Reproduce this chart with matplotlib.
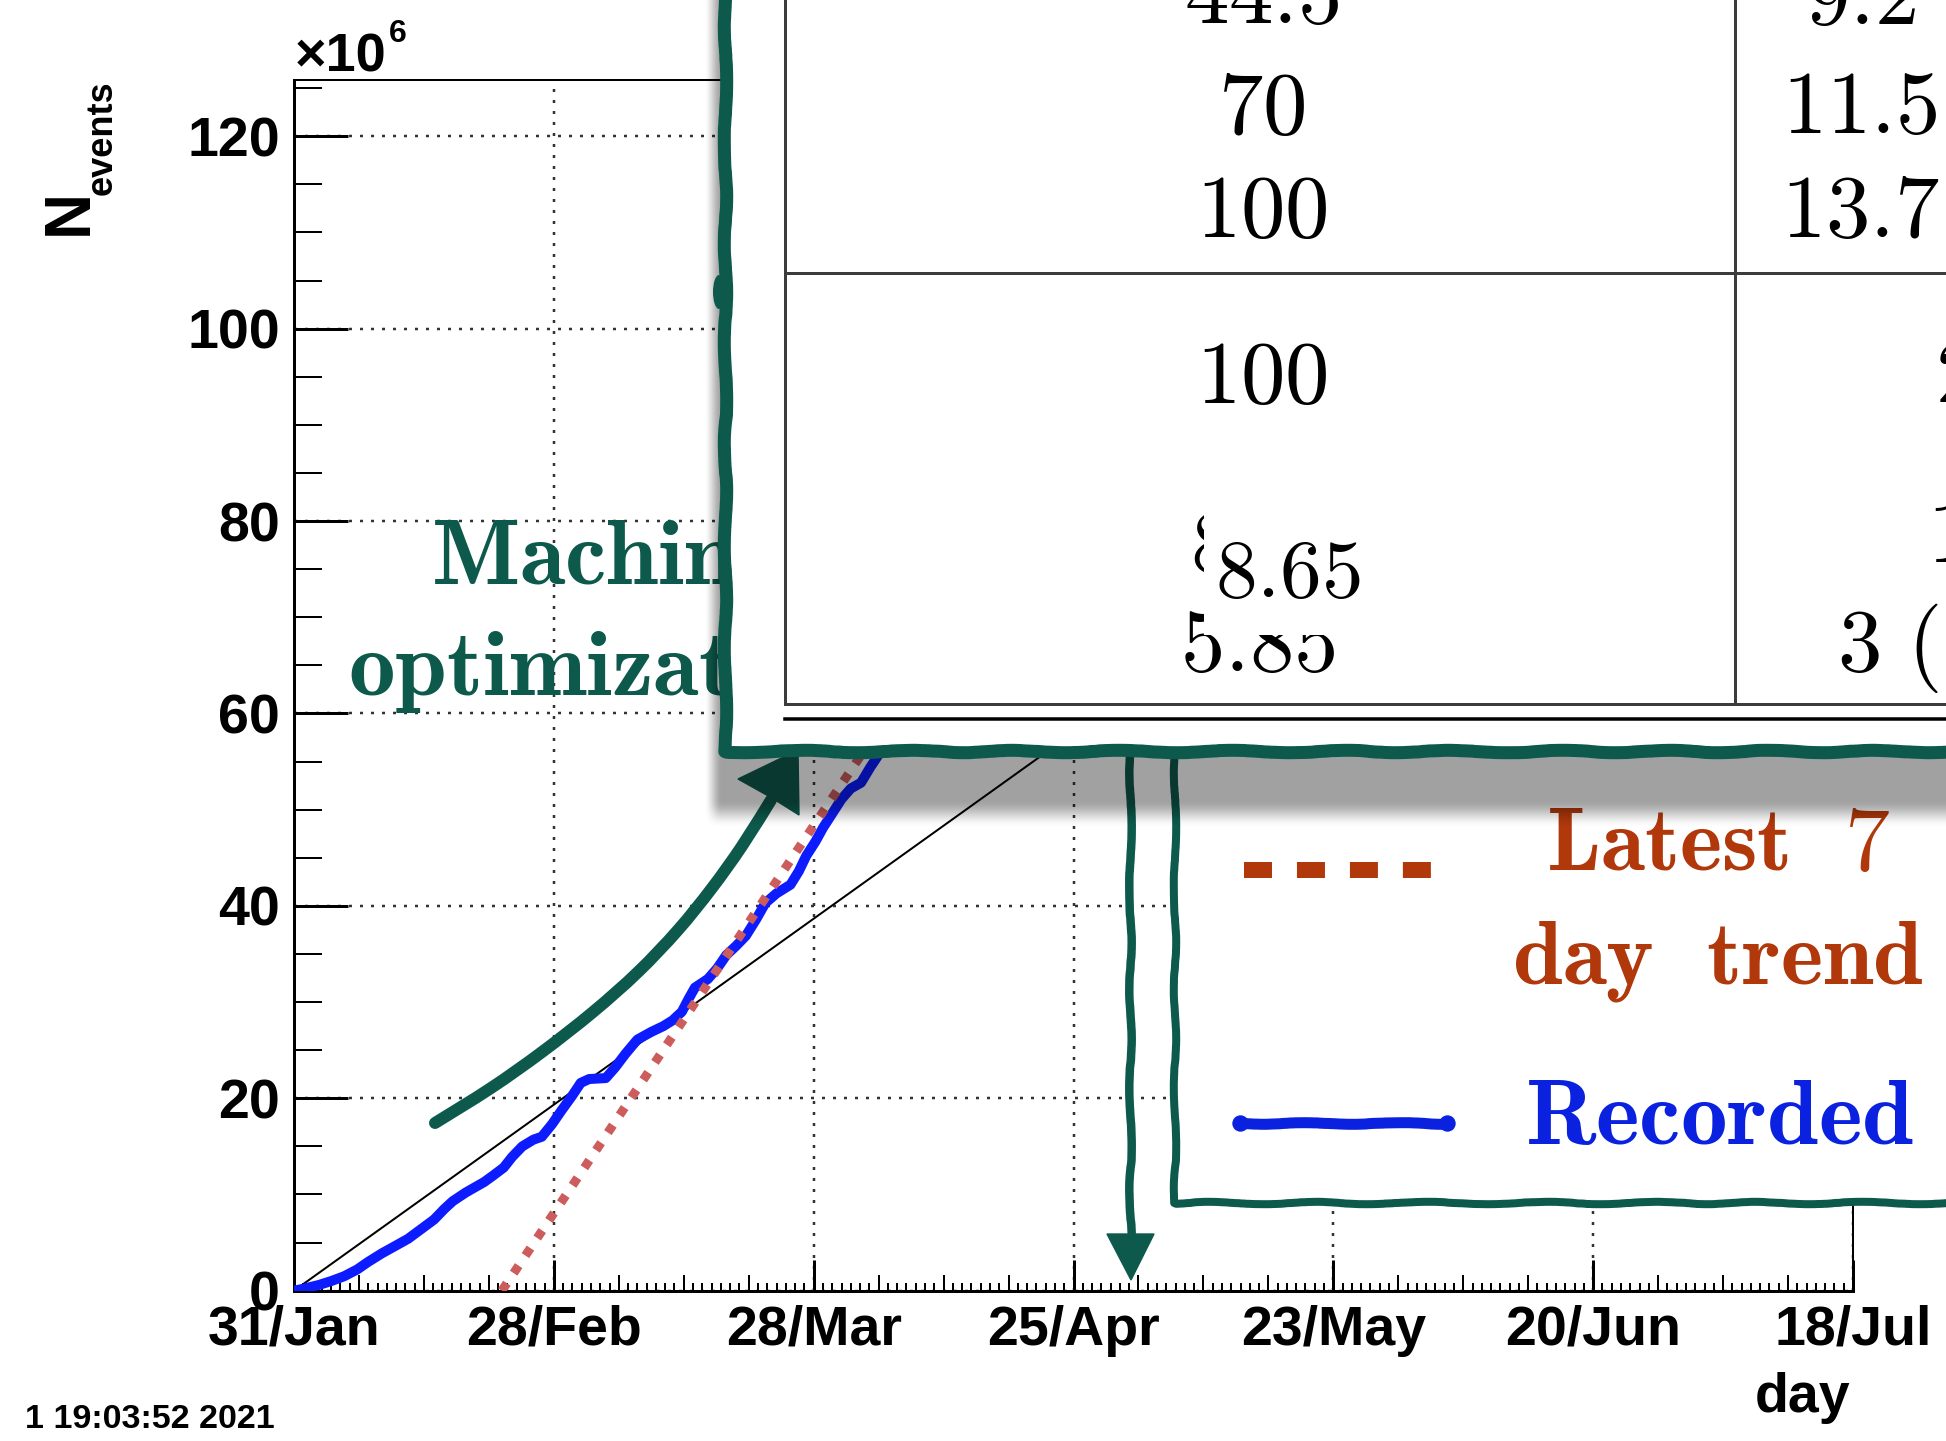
import numpy as np
import matplotlib
matplotlib.use("Agg")
import matplotlib.pyplot as plt
from matplotlib.patches import Rectangle, Polygon, Ellipse, PathPatch
from matplotlib.lines import Line2D
from matplotlib.path import Path

# ---------------- data ----------------
date_ticks = [0, 28, 56, 84, 112, 140, 168]
date_labels = ["31/Jan", "28/Feb", "28/Mar", "25/Apr", "23/May", "20/Jun", "18/Jul"]
y_ticks = [0, 20, 40, 60, 80, 100, 120]

# recorded events (millions) vs days since 31/Jan
rec_days = [0, 1, 2.7, 4, 5.4, 6.8, 8, 9.5, 11, 12.3, 13.7, 15.1, 16.2, 17.1, 18.5,
            20.5, 21.5, 22.6, 23.5, 24.6, 25.8, 26.7, 27.8, 28.8, 30, 30.9, 31.8,
            33.6, 34.6, 35.7, 37, 38.5, 39.8, 40.8, 41.8, 42.5, 43.2, 44.6, 45.6,
            46.6, 47.6, 48.7, 49.8, 50.8, 52, 53.5, 54.4, 55.2, 56.2, 57.0, 58,
            59, 60, 61.1, 62.1, 63.2, 64.5, 66]
rec_mevents = [0, 0.2, 0.6, 1.0, 1.5, 2.2, 3.0, 3.9, 4.7, 5.4, 6.4, 7.4, 8.5, 9.3, 10.2,
               11.3, 12.0, 12.8, 13.9, 15.0, 15.7, 16.0, 17.3, 18.7, 20.3, 21.6, 22.0,
               22.1, 23.2, 24.6, 26.1, 26.9, 27.5, 28.1, 29.0, 30.3, 31.5, 32.4, 33.5,
               34.9, 35.8, 36.9, 38.6, 40.3, 41.3, 42.2, 43.6, 45.2, 46.7, 48.1, 49.6,
               51.1, 52.2, 52.8, 54.4, 56.0, 58.0, 60.5]

# goal line and latest 7 day trend
target_days = [0, 168]
target_mevents = [0, 116]
trend_days = [22.4, 110.0]
trend_mevents = [0, 126.0]

# table overlay contents
table_col1 = ["44.5", "70", "100", "100", "5.85"]
table_col2 = ["9.2", "11.5", "13.7"]
table_col2_cut = ["2", "1", "3 ("]
table_patch_value = "8.65"

# ---------------- figure ----------------
W, H = 1946, 1441
DPI = 100
PX = 72.0 / DPI

plt.rcParams['font.family'] = ['Liberation Sans', 'DejaVu Sans']
plt.rcParams['font.weight'] = 'bold'
plt.rcParams['mathtext.fontset'] = 'cm'

GREEN = '#0d5a4c'
RUST = '#b0380a'
BLUE = '#0a22e0'

fig = plt.figure(figsize=(W / DPI, H / DPI), dpi=DPI)
fig.patch.set_facecolor('white')

L, R, T, B = 294, 1853, 80.4, 1290.7
ax = fig.add_axes([L / W, 1 - B / H, (R - L) / W, (B - T) / H])
ax.set_xlim(0, 168)
ax.set_ylim(0, 125.8)

ax.grid(True, which='major', color='#333333', linestyle=(0, (1.2, 3.2)), linewidth=2.5 * PX)
ax.set_axisbelow(True)

ax.plot(target_days, target_mevents, color='black', lw=2 * PX, zorder=3)
ax.plot(rec_days, rec_mevents, color='#0c1cff', lw=10 * PX, solid_joinstyle='round',
        solid_capstyle='round', zorder=4)
ax.plot(trend_days, trend_mevents, color='#cd5c5c', lw=9 * PX, linestyle=(0, (1, 1.35)),
        dash_capstyle='butt', zorder=5)

ax.set_xticks(date_ticks, date_labels)
ax.set_xticks(np.arange(0, 169, 1), minor=True)
ax.set_yticks(y_ticks, [str(v) for v in y_ticks])
ax.set_yticks(np.arange(0, 126, 5), minor=True)
ax.tick_params(axis='x', which='major', direction='in', length=31 * PX, width=3 * PX,
               labelsize=40, pad=10)
ax.tick_params(axis='x', which='minor', direction='in', length=8 * PX, width=2 * PX)
ax.tick_params(axis='y', which='major', direction='in', length=54 * PX, width=3 * PX,
               labelsize=40, pad=10)
ax.tick_params(axis='y', which='minor', direction='in', length=28 * PX, width=2 * PX)
ax.tick_params(which='both', top=False, right=False)
for s in ['left', 'bottom']:
    ax.spines[s].set_linewidth(3 * PX)
for s in ['top', 'right']:
    ax.spines[s].set_linewidth(2 * PX)

sec = ax.secondary_xaxis('bottom')
sec.set_xticks(np.arange(0, 169, 7))
sec.tick_params(direction='in', length=16 * PX, width=2 * PX, labelbottom=False)
sec.spines['bottom'].set_visible(False)

# ---------------- overlay (pixel coordinates) ----------------
ov = fig.add_axes([0, 0, 1, 1])
ov.set_zorder(10)
ov.axis('off')

# ROOT texts
ov.text(295, 71, "\u00d710", fontsize=39, ha='left', va='baseline')
ov.text(389, 42, "6", fontsize=23, ha='left', va='baseline')
ov.text(70, 212, "N", fontsize=46, rotation=90, ha='center', va='center')
ov.text(102, 138, "events", fontsize=26, rotation=90, ha='center', va='center')
ov.text(1850, 1412, "day", fontsize=40, ha='right', va='baseline')
ov.text(25, 1428, "1 19:03:52 2021", fontsize=24.5, ha='left', va='baseline')

SK = dict(scale=1.2, length=150, randomness=4)

# legend box
ov.add_patch(Rectangle((1175, 745), W + 30 - 1175, 1203 - 745, facecolor='white',
                       edgecolor='none', zorder=1))
lb = Line2D([1175, 1175, W + 30], [745, 1203, 1203], color=GREEN, lw=8 * PX,
            solid_joinstyle='round', solid_capstyle='round', zorder=2)
lb.set_sketch_params(**SK)
ov.add_line(lb)
ov.add_line(Line2D([1244, 1431], [870, 870], color=RUST, lw=16 * PX,
                   linestyle=(0, (1.75, 1.56)), dash_capstyle='butt', zorder=2))
bl = Line2D([1240, 1447], [1123, 1123], color=BLUE, lw=11 * PX, solid_capstyle='round', zorder=2)
bl.set_sketch_params(scale=0.8, length=120, randomness=4)
ov.add_line(bl)
ov.plot([1240, 1447], [1123, 1123], 'o', color=BLUE, ms=15 * PX, zorder=2)
ov.text(1718, 870, r"$\mathbf{Latest\ \ 7}$", fontsize=65, color=RUST, ha='center',
        va='baseline', zorder=2)
ov.text(1718, 983, r"$\mathbf{day\ \ trend}$", fontsize=65, color=RUST, ha='center',
        va='baseline', zorder=2)
ov.text(1525, 1144, r"$\mathbf{Recorded}$", fontsize=67, color=BLUE, ha='left',
        va='baseline', zorder=2)

# vertical arrow
va_line = Line2D([1130, 1130], [745, 1238], color=GREEN, lw=8.5 * PX, zorder=2)
va_line.set_sketch_params(**SK)
ov.add_line(va_line)
ov.add_patch(Polygon([(1107, 1234), (1154, 1234), (1131, 1280)], closed=True,
                     facecolor=GREEN, edgecolor=GREEN, lw=1, zorder=2))

# "Machine optimization" annotation
ov.text(604, 583, r"$\mathbf{Machine}$", fontsize=67, color=GREEN, ha='center',
        va='baseline', zorder=2)
ov.text(604, 695, r"$\mathbf{optimization}$", fontsize=67, color=GREEN, ha='center',
        va='baseline', zorder=2)
arrow_pts = np.array([[435, 1123], [491, 1088], [542, 1052], [593, 1012], [638, 972],
                      [678, 930], [712, 888], [742, 846], [771, 800]], dtype=float)
# smooth (Catmull-Rom -> cubic Bezier) path through the hand-drawn points
ext = np.vstack([arrow_pts[0], arrow_pts, arrow_pts[-1]])
verts = [tuple(arrow_pts[0])]
codes = [Path.MOVETO]
for i in range(1, len(ext) - 2):
    p0, p1, p2, p3 = ext[i - 1], ext[i], ext[i + 1], ext[i + 2]
    c1 = p1 + (p2 - p0) / 6.0
    c2 = p2 - (p3 - p1) / 6.0
    verts += [tuple(c1), tuple(c2), tuple(p2)]
    codes += [Path.CURVE4] * 3
ov.add_patch(PathPatch(Path(verts, codes), facecolor='none', edgecolor=GREEN,
                       lw=12 * PX, capstyle='round', joinstyle='round', zorder=2))
ov.add_patch(Polygon([(738, 779), (798, 750), (799, 815), (772, 798)], closed=True,
                     facecolor=GREEN, edgecolor=GREEN, lw=1, zorder=2))

# drop shadow of the table
xs = np.arange(700, W) + 0.5
ys = np.arange(0, 845) + 0.5
def smooth(t):
    t = np.clip(t, 0, 1)
    return t * t * (3 - 2 * t)
sx = smooth((xs - 704) / 18.0)
sy = 1 - smooth((ys - 800) / 28.0)
rgba = np.zeros((len(ys), len(xs), 4))
rgba[..., 3] = 0.37 * np.outer(sy, sx)
ov.imshow(rgba, extent=(700, W, 845, 0), origin='upper', aspect='auto',
          interpolation='bilinear', zorder=3)

# table box
ov.add_patch(Rectangle((725, -30), W + 30 - 725, 751 + 30, facecolor='white',
                       edgecolor='none', zorder=4))
LC = '#3c3c3c'
ov.add_line(Line2D([785, 785], [-10, 704], color=LC, lw=3 * PX, zorder=5))
ov.add_line(Line2D([1735, 1735], [-10, 704], color=LC, lw=3 * PX, zorder=5))
ov.add_line(Line2D([785, W + 10], [273, 273], color=LC, lw=3 * PX, zorder=5))
ov.add_line(Line2D([785, W + 10], [704, 704], color=LC, lw=3 * PX, zorder=5))
ov.add_line(Line2D([785, W + 10], [719, 719], color='black', lw=3.5 * PX, zorder=5))

col1_base = [23, 134, 237, 403, 671]
col1_x = [1262, 1262, 1262, 1262, 1258]
for txt, xx, yy in zip(table_col1, col1_x, col1_base):
    ov.text(xx, yy, "$" + txt + "$", fontsize=64, ha='center', va='baseline', zorder=6)
for txt, yy in zip(table_col2, [24, 133, 237]):
    ov.text(1860, yy, "$" + txt + "$", fontsize=64, ha='center', va='baseline', zorder=6)
for txt, xx, yy in zip(table_col2_cut, [1935, 1927, 1837], [402, 562, 671]):
    ov.text(xx, yy, "$" + txt.replace(" ", r"\ ") + "$", fontsize=64, ha='left',
            va='baseline', zorder=6)
# partially hidden original value under the pasted patch
ov.text(1190, 572, "$8$", fontsize=64, ha='left', va='baseline', zorder=6)
ov.add_patch(Rectangle((1204, 500), 168, 135, facecolor='white', edgecolor='none', zorder=6.5))
ov.text(1215, 597, "$" + table_patch_value + "$", fontsize=60, ha='left', va='baseline',
        zorder=7)

tb = Line2D([725, 725, W + 30], [-30, 751, 751], color=GREEN, lw=13 * PX,
            solid_joinstyle='round', solid_capstyle='round', zorder=8)
tb.set_sketch_params(**SK)
ov.add_line(tb)
ov.add_patch(Ellipse((719, 292), 12, 34, facecolor=GREEN, edgecolor='none', zorder=8))

ov.set_xlim(0, W)
ov.set_ylim(H, 0)

fig.savefig("out.png", dpi=DPI)
